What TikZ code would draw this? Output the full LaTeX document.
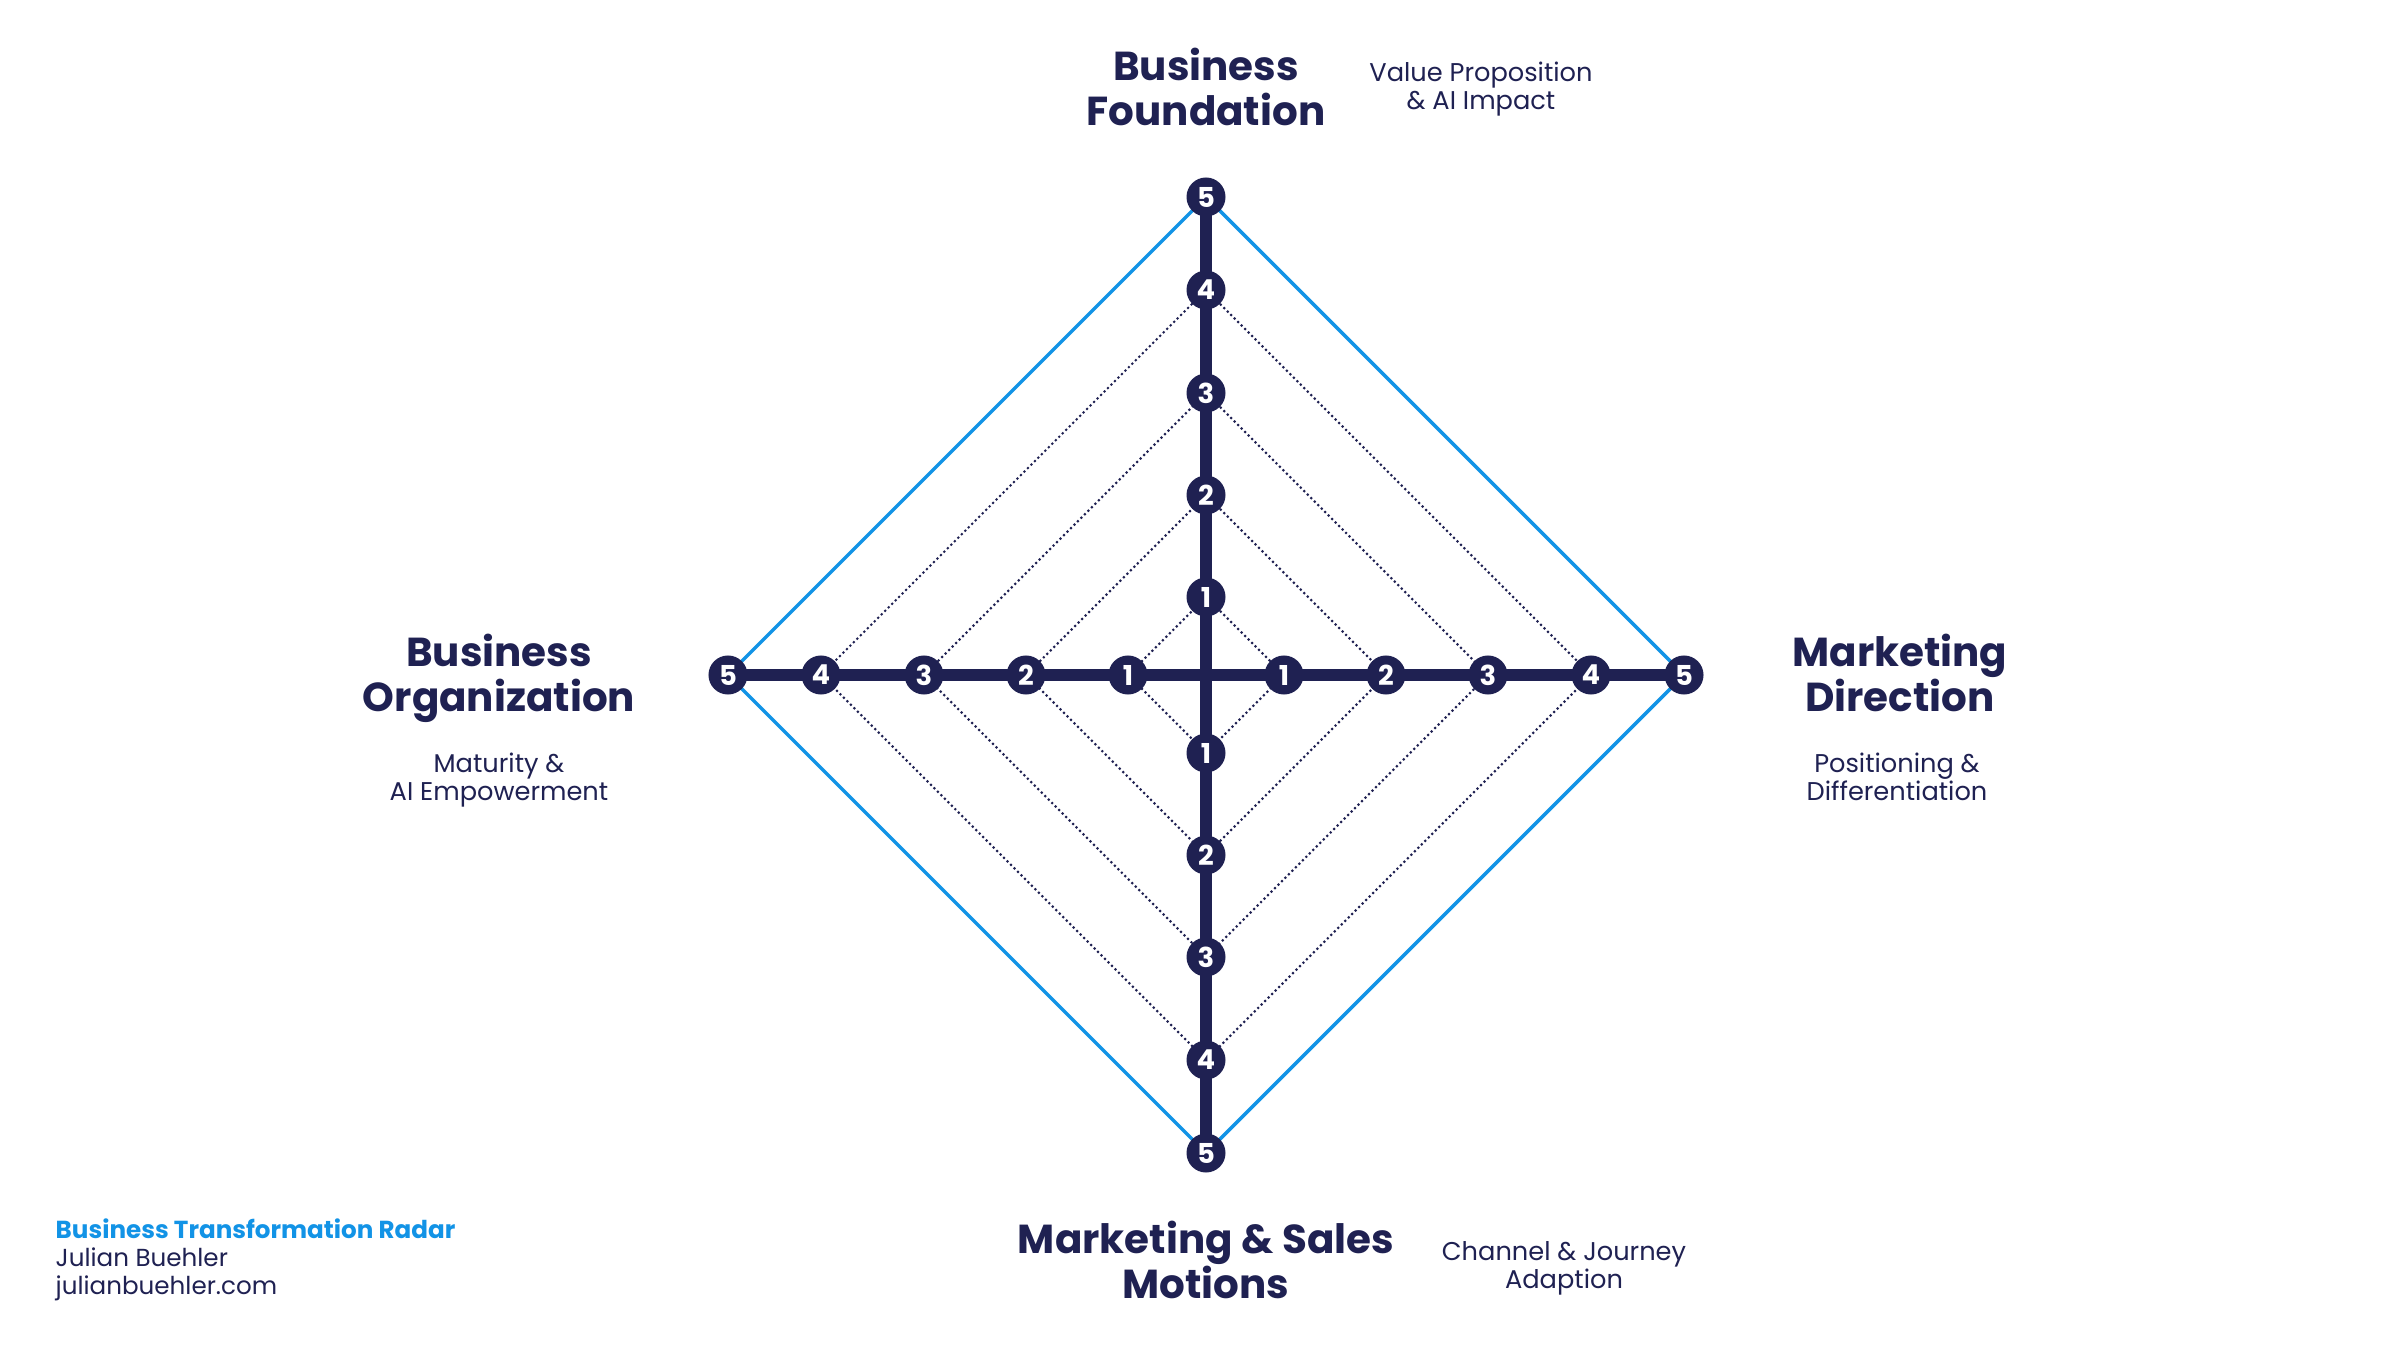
\documentclass[tikz,border=0pt]{standalone}
\usepackage{fontspec}
\setmainfont{Poppins}
\usetikzlibrary{backgrounds}
\definecolor{radarnavy}{RGB}{31,33,82}
\definecolor{radarblue}{RGB}{18,147,230}
\tikzset{
  scoredot/.style={circle,fill=radarnavy,text=white,inner sep=0pt,minimum size=0.39cm,
    font=\bfseries\fontsize{7.8}{8}\selectfont},
  axisline/.style={radarnavy,line width=3.4pt},
  gridline/.style={radarnavy,line width=0.6pt,dash pattern=on 0.6pt off 0.8pt},
  outerline/.style={radarblue,line width=1pt},
  dimtitle/.style={radarnavy,align=center,anchor=north,inner sep=0pt,
    font=\bfseries\fontsize{11.5}{12.8}\selectfont},
  dimnote/.style={radarnavy,align=center,anchor=north,inner sep=0pt,
    font=\fontsize{7.3}{7.9}\selectfont}
}
\begin{document}
\begin{tikzpicture}[x=0.01cm,y=-0.01cm]
  \useasboundingbox (0,0) rectangle (2399,1349);
  \begin{scope}[shift={(1206,675)}]
    \foreach \k/\r in {1/78,2/180,3/282,4/385,5/478}{
      \node[scoredot] (t\k) at (0,-\r) {\k};
      \node[scoredot] (r\k) at (\r,0) {\k};
      \node[scoredot] (b\k) at (0,\r) {\k};
      \node[scoredot] (l\k) at (-\r,0) {\k};
    }
  \end{scope}
  \begin{scope}[on background layer]
    \fill[white] (0,0) rectangle (2399,1349);
    \foreach \k in {1,...,4}
      \draw[gridline] (t\k.center) -- (r\k.center) -- (b\k.center) -- (l\k.center) -- cycle;
    \draw[outerline] (t5.center) -- (r5.center) -- (b5.center) -- (l5.center) -- cycle;
    \draw[axisline] (l5.center) -- (r5.center);
    \draw[axisline] (t5.center) -- (b5.center);
  \end{scope}
  % dimension labels
  \node[dimtitle] (found) at (1206,47) {Business\\Foundation};
  \node[dimnote] (foundnote) at (1481,61) {Value Proposition\\\& AI Impact};
  \node[dimtitle] (orga) at (499,633) {Business\\Organization};
  \node[dimnote] (organote) at (499,752) {Maturity \&\\AI Empowerment};
  \node[dimtitle] (mkt) at (1900,633) {Marketing\\Direction};
  \node[dimnote] (mktnote) at (1897,752) {Positioning \&\\Differentiation};
  \node[dimtitle] (sales) at (1206,1220) {Marketing \& Sales\\Motions};
  \node[dimnote] (salesnote) at (1564,1241) {Channel \& Journey\\Adaption};
  % footer
  \node[radarnavy,align=left,anchor=north west,inner sep=0pt,font=\fontsize{7}{8}\selectfont]
    (credit) at (55,1218) {{\bfseries\color{radarblue}Business Transformation Radar}\\Julian Buehler\\julianbuehler.com};
\end{tikzpicture}
\end{document}
